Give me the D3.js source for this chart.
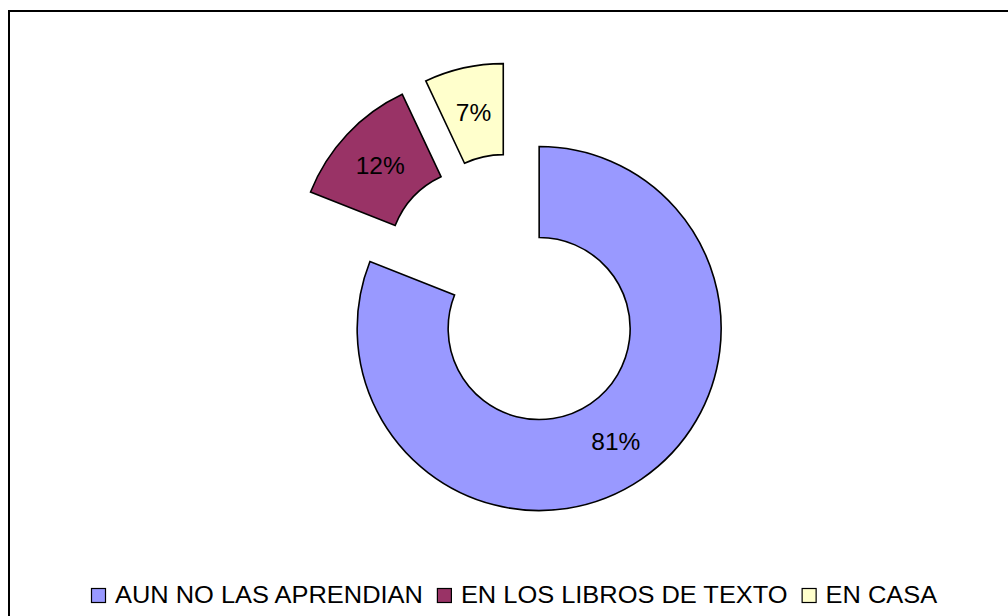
<html>
<head>
<meta charset="utf-8">
<script src="https://d3js.org/d3.v7.min.js"></script>
<style>
body { margin:0; background:#fff; }
text { font-family: "Liberation Sans", Arial, sans-serif; fill:#000; }
</style>
</head>
<body>
<svg width="1008" height="616"></svg>
<script>
var categories = ["AUN NO LAS APRENDIAN", "EN LOS LIBROS DE TEXTO", "EN CASA"];
var values = [81, 12, 7];
var labels = ["81%", "12%", "7%"];
var colors = ["#9999ff", "#993366", "#ffffcc"];

var width = 1008, height = 616;
var cx = 513.3, cy = 290.5;
var outerR = 182, innerR = 91, explode = 46;

var svg = d3.select("svg");

// chart frame (only left and top edges fall inside the picture)
svg.append("rect")
	.attr("x", 9).attr("y", 11)
	.attr("width", 1100).attr("height", 700)
	.attr("fill", "none")
	.attr("stroke", "#000")
	.attr("stroke-width", 2);

var data = values.map(function(v, i) { return {name:categories[i], value:v, label:labels[i], color:colors[i]}; });

var pie = d3.pie().sort(null).value(function(d) { return d.value; });
var arc = d3.arc().innerRadius(innerR).outerRadius(outerR);

var slices = svg.append("g")
	.attr("transform", "translate(" + cx + "," + cy + ")")
	.selectAll("g")
	.data(pie(data))
	.enter()
	.append("g")
	.attr("transform", function(d) {
		var a = (d.startAngle + d.endAngle) / 2;
		return "translate(" + (Math.sin(a) * explode) + "," + (-Math.cos(a) * explode) + ")";
	});

slices.append("path")
	.attr("d", arc)
	.attr("fill", function(d) { return d.data.color; })
	.attr("stroke", "#000")
	.attr("stroke-width", 1.6)
	.attr("stroke-linejoin", "miter");

slices.append("text")
	.attr("transform", function(d) { return "translate(" + arc.centroid(d) + ")"; })
	.attr("text-anchor", "middle")
	.attr("dy", "0.36em")
	.style("font-size", "24.5px")
	.text(function(d) { return d.data.label; });

// legend
var legend = svg.append("g").attr("transform", "translate(91,588)");
var lx = 0;
data.forEach(function(d) {
	legend.append("rect")
		.attr("x", lx + 0.5).attr("y", 0.5)
		.attr("width", 14).attr("height", 14)
		.attr("fill", d.color)
		.attr("stroke", "#000")
		.attr("stroke-width", 1.2);
	var t = legend.append("text")
		.attr("x", lx + 24)
		.attr("y", 15)
		.style("font-size", "23px")
		.text(d.name);
	var w = t.node().getComputedTextLength() * 1.105;
	t.attr("textLength", w).attr("lengthAdjust", "spacingAndGlyphs");
	lx += 24 + w + 14;
});
</script>
</body>
</html>
